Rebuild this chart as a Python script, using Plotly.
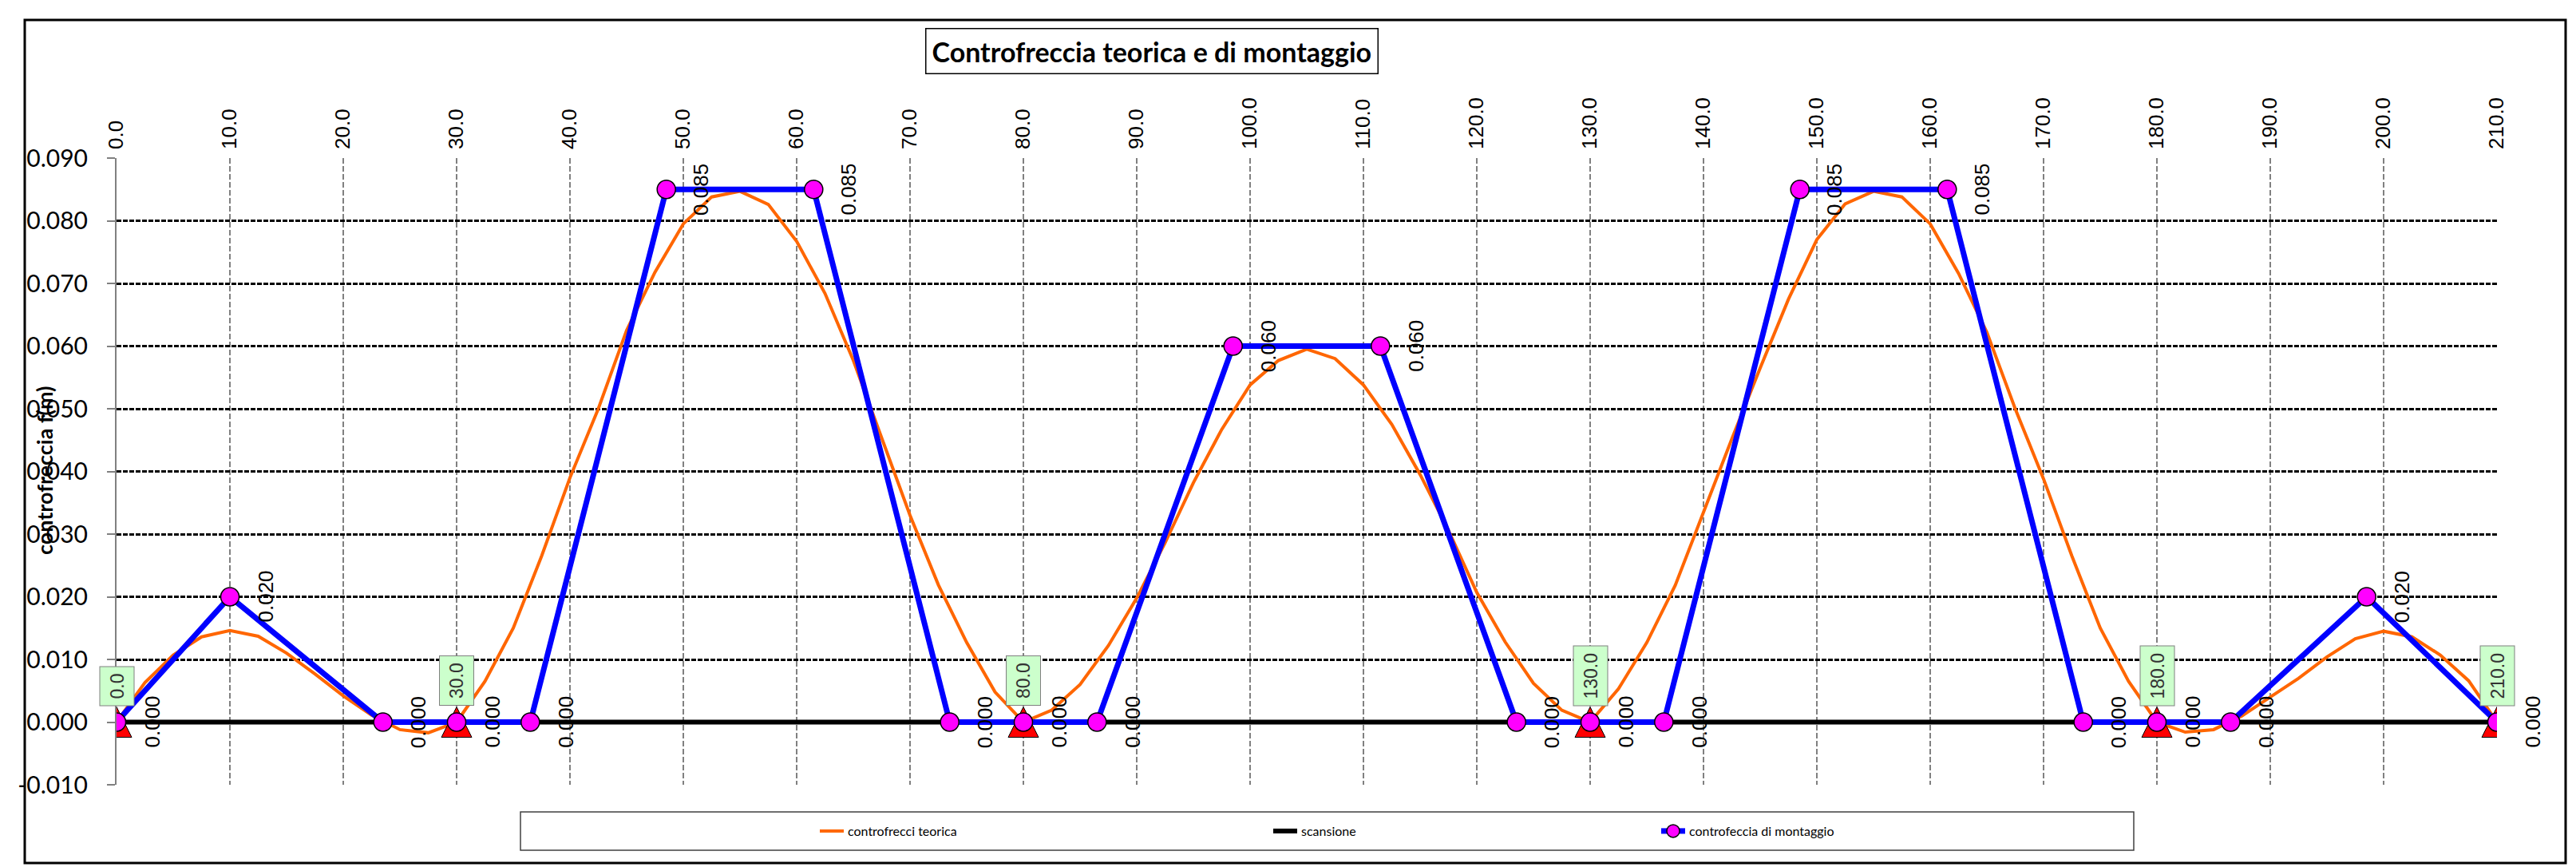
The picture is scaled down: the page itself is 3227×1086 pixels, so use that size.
import plotly.graph_objects as go

# ---------------- data ----------------
x_teorica = [0, 2.5, 5, 7.5, 10, 12.5, 15, 17.5, 20, 22.5, 25, 27.5, 30,
             32.5, 35, 37.5, 40, 42.5, 45, 47.5, 50, 52.5, 55, 57.5, 60,
             62.5, 65, 67.5, 70, 72.5, 75, 77.5, 80, 82.5, 85, 87.5, 90,
             92.5, 95, 97.5, 100, 102.5, 105, 107.5, 110, 112.5, 115, 117.5,
             120, 122.5, 125, 127.5, 130, 132.5, 135, 137.5, 140, 142.5, 145,
             147.5, 150, 152.5, 155, 157.5, 160, 162.5, 165, 167.5, 170,
             172.5, 175, 177.5, 180, 182.5, 185, 187.5, 190, 192.5, 195,
             197.5, 200, 202.5, 205, 207.5, 210]
y_teorica = [0.0, 0.0063, 0.0107, 0.0136, 0.0146, 0.0137, 0.0110, 0.0077, 0.0042,
             0.0011, -0.0012, -0.0017, 0.0,
             0.0065, 0.0150, 0.0265, 0.0390, 0.0500, 0.0625, 0.0718, 0.0795,
             0.0838, 0.0847, 0.0826, 0.0767, 0.0684, 0.0577, 0.0452, 0.0330,
             0.0219, 0.0127, 0.0048, 0.0,
             0.0019, 0.0060, 0.0122, 0.0198, 0.0286, 0.0382, 0.0467, 0.0538,
             0.0577, 0.0595, 0.0580, 0.0538, 0.0475, 0.0395, 0.0306, 0.0207,
             0.0128, 0.0062, 0.0019, 0.0,
             0.0053, 0.0127, 0.0218, 0.0335, 0.0452, 0.0565, 0.0675, 0.0770,
             0.0827, 0.0847, 0.0838, 0.0795, 0.0716, 0.0622, 0.0500, 0.0388,
             0.0265, 0.0150, 0.0065, 0.0,
             -0.0016, -0.0012, 0.0010, 0.0040, 0.0070, 0.0104, 0.0133, 0.0145,
             0.0136, 0.0107, 0.0066, 0.0]

x_scansione = [0, 30, 80, 130, 180, 210]
y_scansione = [0, 0, 0, 0, 0, 0]

x_montaggio = [0, 10, 23.5, 30, 36.5, 48.5, 61.5, 73.5, 80, 86.5, 98.5, 111.5,
               123.5, 130, 136.5, 148.5, 161.5, 173.5, 180, 186.5, 198.5, 210]
y_montaggio = [0, 0.020, 0, 0, 0, 0.085, 0.085, 0, 0, 0, 0.060, 0.060,
               0, 0, 0, 0.085, 0.085, 0, 0, 0, 0.020, 0]

x_ticks = [0, 10, 20, 30, 40, 50, 60, 70, 80, 90, 100, 110, 120, 130, 140,
           150, 160, 170, 180, 190, 200, 210]
x_ticktext = ["0.0", "10.0", "20.0", "30.0", "40.0", "50.0", "60.0", "70.0",
              "80.0", "90.0", "100.0", "110.0", "120.0", "130.0", "140.0",
              "150.0", "160.0", "170.0", "180.0", "190.0", "200.0", "210.0"]
y_ticks = [-0.010, 0.000, 0.010, 0.020, 0.030, 0.040, 0.050, 0.060, 0.070,
           0.080, 0.090]
y_ticktext = ["-0.010", "0.000", "0.010", "0.020", "0.030", "0.040", "0.050",
              "0.060", "0.070", "0.080", "0.090"]

title_text = "Controfreccia teorica e di montaggio"
ytitle_text = "controfreccia f(m)"
name_teorica = "controfrecci teorica"
name_scansione = "scansione"
name_montaggio = "controfeccia di montaggio"

# ---------------- geometry ----------------
# The page body has an 8px default margin, so the figure is drawn 8px right/down
# of the window origin. All targets below are window pixels.
OFF = 8
W, H = 3227 - OFF, 1086 - OFF
L, R, T, B = 146 - OFF, 3128 - OFF, 198 - OFF, 983 - OFF


def px(xp):
    return (xp - OFF - L) / (R - L)


def py(yp):
    return (B - (yp - OFF)) / (B - T)


fig = go.Figure()

fig.add_trace(go.Scatter(
    x=x_teorica, y=y_teorica, mode="lines", name=name_teorica,
    line=dict(color="#FF6600", width=4), legend="legend"))

# supports: upward triangle centred on the point (arrow symbol rotated, with standoff)
fig.add_trace(go.Scatter(
    x=x_scansione, y=y_scansione, mode="lines+markers", name=name_scansione,
    line=dict(color="black", width=6),
    marker=dict(symbol="arrow-down", angle=180, standoff=19, size=38,
                color="#FF0000", line=dict(color="black", width=1)),
    legend="legend2"))

fig.add_trace(go.Scatter(
    x=x_montaggio, y=y_montaggio, mode="lines+markers", name=name_montaggio,
    line=dict(color="#0000FF", width=7),
    marker=dict(symbol="circle", size=23, color="#FF00FF",
                line=dict(color="black", width=1.5)),
    legend="legend3"))

annotations = []
# value labels of montaggio points
for xv, yv in zip(x_montaggio, y_montaggio):
    annotations.append(dict(
        x=xv, y=yv, xref="x", yref="y", text=f"{yv:.3f}", showarrow=False,
        textangle=-90, xanchor="left", yanchor="middle", xshift=27,
        font=dict(family="Liberation Sans", size=26, color="black")))
# position labels of supports
for xv, yv in zip(x_scansione, y_scansione):
    annotations.append(dict(
        x=xv, y=yv, xref="x", yref="y", text=f"{xv:.1f}", showarrow=False,
        textangle=-90, xanchor="center", yanchor="bottom", yshift=20,
        bgcolor="#CCFFCC", bordercolor="#808080", borderwidth=1, borderpad=8,
        font=dict(family="Liberation Sans", size=23, color="#333333")))
# chart title
annotations.append(dict(
    x=px(1443), y=py(64), xref="paper", yref="paper", text=f"<b>{title_text}</b>",
    showarrow=False, xanchor="center", yanchor="middle",
    bgcolor="white", bordercolor="black", borderwidth=1.5, borderpad=7,
    font=dict(family="Lato", size=34, color="black")))
# y axis title (overlapping tick labels as in reference)
annotations.append(dict(
    x=px(55), y=py(590), xref="paper", yref="paper", text=f"<b>{ytitle_text}</b>",
    showarrow=False, xanchor="center", yanchor="middle", textangle=-90,
    font=dict(family="Lato", size=27, color="black")))

shapes = [
    # outer frame
    dict(type="rect", xref="paper", yref="paper", x0=px(31), x1=px(3214),
         y0=py(1081), y1=py(25), line=dict(color="black", width=3),
         fillcolor="rgba(0,0,0,0)", layer="below"),
    # legend frame
    dict(type="rect", xref="paper", yref="paper", x0=px(652), x1=px(2673),
         y0=py(1065), y1=py(1017), line=dict(color="#404040", width=1.5),
         fillcolor="rgba(0,0,0,0)", layer="below"),
]

leg_common = dict(orientation="h", bgcolor="rgba(0,0,0,0)", borderwidth=0,
                  xanchor="left", yanchor="middle",
                  font=dict(family="Lato", size=16, color="black"))

fig.update_layout(
    width=W, height=H,
    margin=dict(l=L, r=W - R, t=T, b=H - B, pad=0),
    paper_bgcolor="white", plot_bgcolor="white",
    showlegend=True,
    legend=dict(x=px(1022), y=py(1041), **leg_common),
    legend2=dict(x=px(1590), y=py(1041), **leg_common),
    legend3=dict(x=px(2076), y=py(1041), **leg_common),
    annotations=annotations,
    shapes=shapes,
    xaxis=dict(
        range=[0, 210], side="top", tickmode="array", tickvals=x_ticks,
        ticktext=x_ticktext, tickangle=-90, ticks="", ticklabelstandoff=10,
        tickfont=dict(family="Liberation Sans", size=26, color="black"),
        showgrid=True, gridcolor="#808080", gridwidth=2, griddash="7px,3px",
        zeroline=False, showline=False, fixedrange=True),
    yaxis=dict(
        range=[-0.010, 0.090], tickmode="array", tickvals=y_ticks,
        ticktext=y_ticktext, ticks="outside", ticklen=10, tickwidth=2,
        tickcolor="#808080", ticklabelstandoff=18,
        tickfont=dict(family="Lato", size=30, color="black"),
        showgrid=True, gridcolor="black", gridwidth=2.5, griddash="6px,2px",
        zeroline=False, showline=True, linecolor="#808080", linewidth=2,
        fixedrange=True),
)

fig.write_html("out.html")
